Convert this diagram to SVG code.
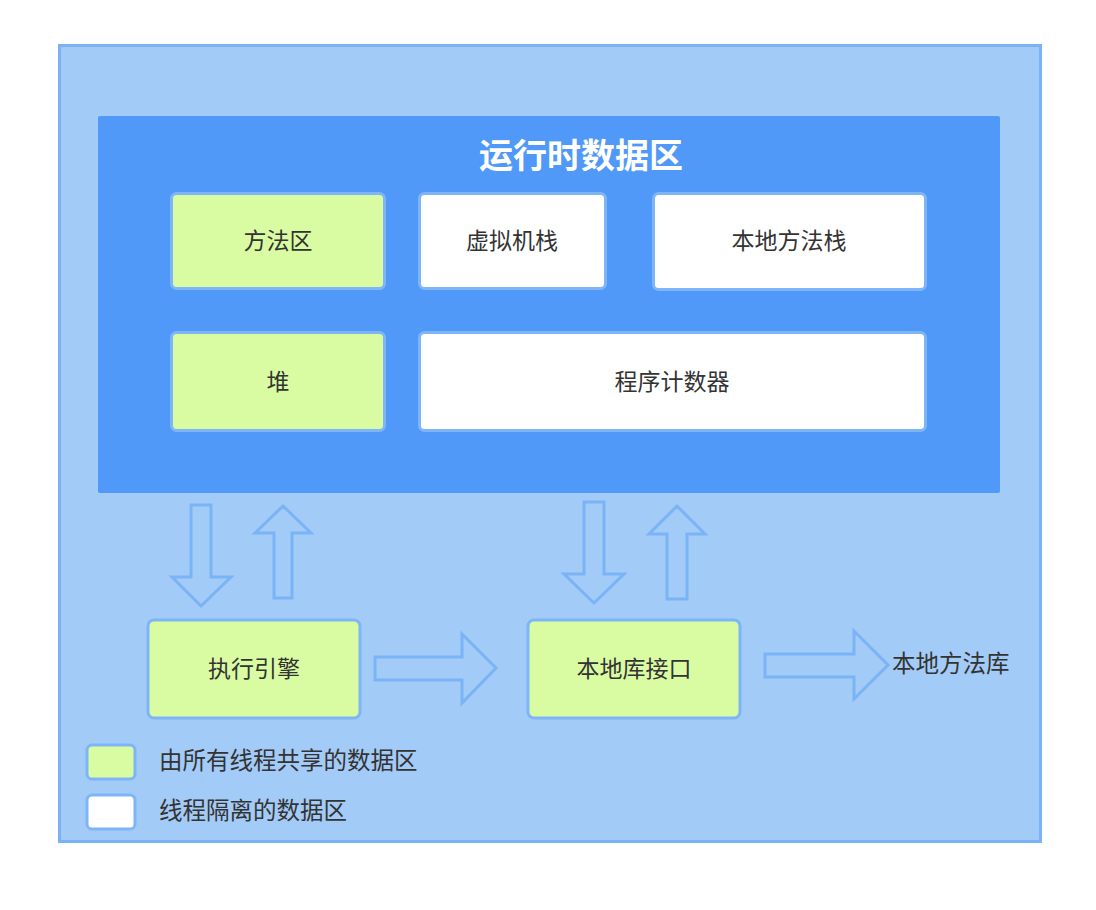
<svg xmlns="http://www.w3.org/2000/svg" width="1096" height="910" viewBox="0 0 1096 910">
<style>
.t{font-family:"Noto Sans CJK SC","Noto Sans",sans-serif;font-size:23px;fill:#333333;text-anchor:middle;dominant-baseline:central}
.tl{font-family:"Noto Sans CJK SC","Noto Sans",sans-serif;font-size:23.5px;fill:#333333;dominant-baseline:central}
.g{fill:#d9fca3;stroke:#7db5f7;stroke-width:3}
.w{fill:#ffffff;stroke:#7db5f7;stroke-width:3}
.a{fill:none;stroke:#7ab3f6;stroke-width:3;stroke-linejoin:miter}
</style>
<rect width="1096" height="910" fill="#ffffff"/>
<g id="jvm">
<rect x="59.5" y="45.5" width="981" height="796" fill="#a3cbf8" stroke="#7ab2f5" stroke-width="3"/>
</g>
<g id="runtime">
<rect x="98" y="116" width="902" height="377" rx="2" fill="#5199f8"/>
<text x="581" y="153" font-family="'Noto Sans CJK SC',sans-serif" font-size="34" font-weight="bold" fill="#ffffff" text-anchor="middle" dominant-baseline="central">运行时数据区</text>
</g>
<g id="method-area"><rect class="g" x="171.5" y="193.5" width="213" height="95" rx="5"/><text class="t" x="278" y="239">方法区</text></g>
<g id="vm-stack"><rect class="w" x="419.5" y="193.5" width="186" height="95" rx="5"/><text class="t" x="512" y="239">虚拟机栈</text></g>
<g id="native-stack"><rect class="w" x="653.5" y="193.5" width="272" height="96" rx="5"/><text class="t" x="789" y="239">本地方法栈</text></g>
<g id="heap"><rect class="g" x="171.5" y="332.5" width="213" height="98" rx="5"/><text class="t" x="278" y="380">堆</text></g>
<g id="pc"><rect class="w" x="419.5" y="332.5" width="506" height="98" rx="5"/><text class="t" x="672" y="380">程序计数器</text></g>
<g id="engine"><rect class="g" x="148" y="620" width="212" height="98" rx="6"/><text class="t" x="254" y="667">执行引擎</text></g>
<g id="native-interface"><rect class="g" x="528" y="620" width="212" height="98" rx="6"/><text class="t" x="634" y="667">本地库接口</text></g>
<g id="native-lib"><text class="tl" x="892" y="662">本地方法库</text></g>
<g id="connectors">
<path class="a" d="M191,505 H211 V577 H231 L201,606 L172,577 H191 Z"/>
<path class="a" d="M283,506 L311,533 H292 V598 H274 V533 H255 Z"/>
<path class="a" d="M584,502 H604 V574 H624 L594,603 L564,574 H584 Z"/>
<path class="a" d="M677,506 L705,534 H687 V599 H667 V534 H649 Z"/>
<path class="a" d="M375,657 H462 V634 L496,668 L462,703 V680 H375 Z"/>
<path class="a" d="M765,654 H854 V631 L888,665 L854,699 V677 H765 Z"/>
</g>
<g id="legend">
<rect class="g" x="87" y="745" width="48" height="34" rx="5"/>
<text class="tl" x="159" y="759">由所有线程共享的数据区</text>
<rect class="w" x="87" y="795" width="48" height="34" rx="5"/>
<text class="tl" x="159" y="809">线程隔离的数据区</text>
</g>
</svg>
